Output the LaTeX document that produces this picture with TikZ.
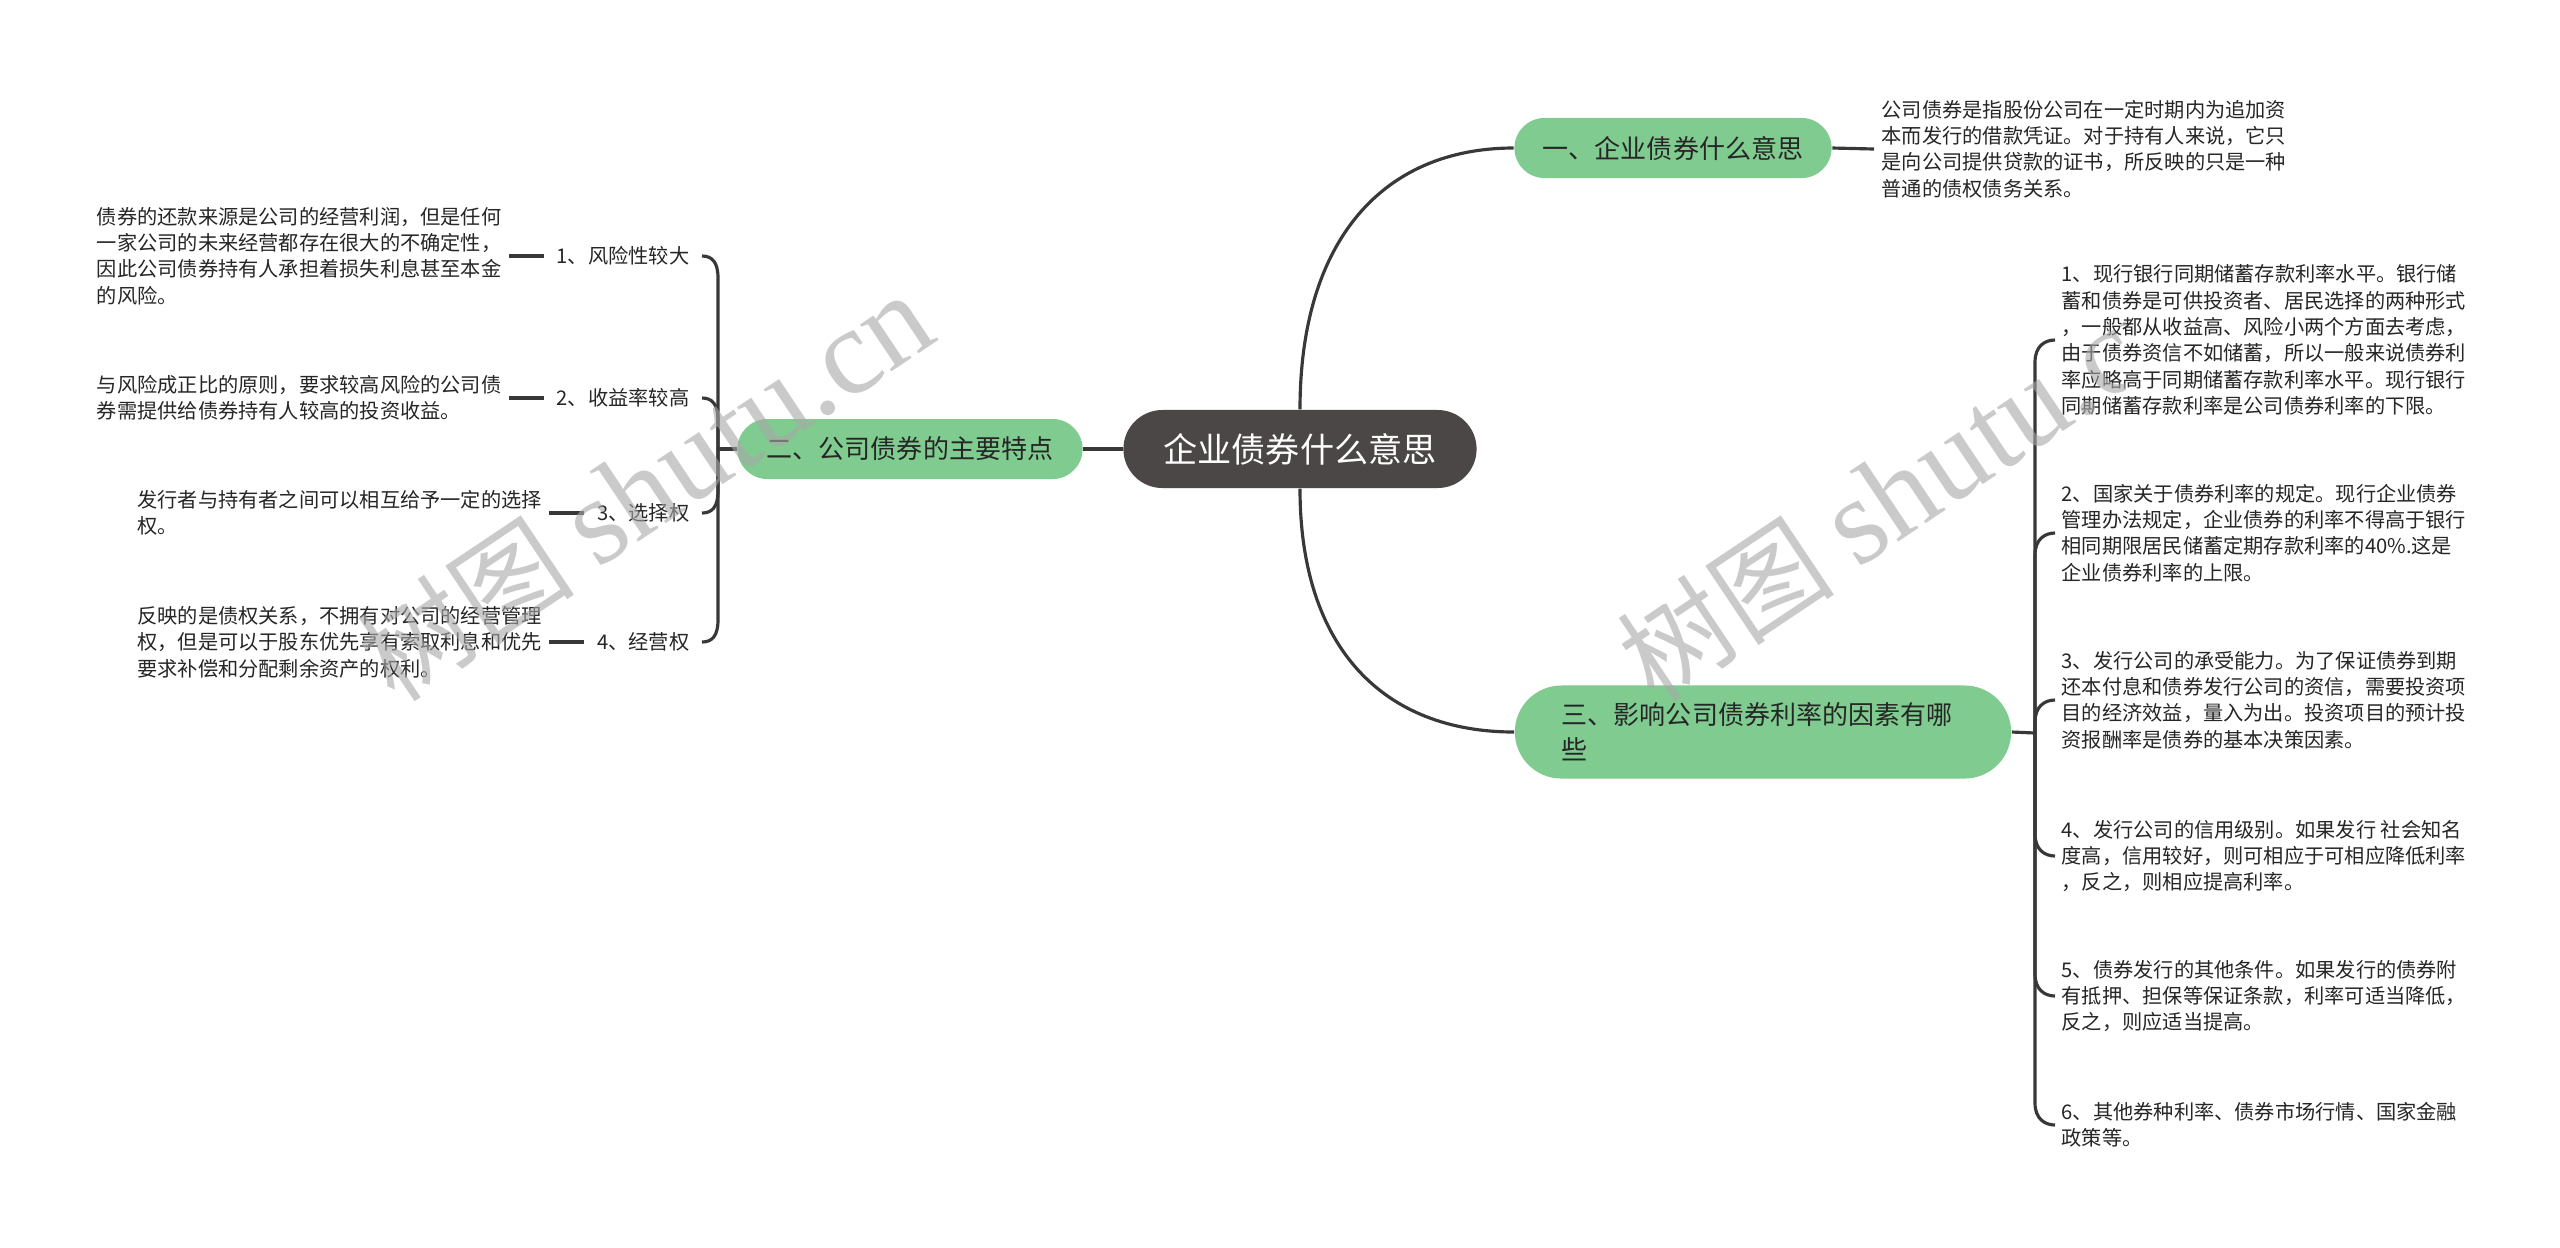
\documentclass[tikz,border=0pt]{standalone}
\usepackage{fontspec}
\setmainfont{Noto Sans CJK SC}
\newfontfamily\wmlatin{Liberation Serif}
\usetikzlibrary{calc}
\definecolor{nodegreen}{HTML}{80CB90}
\definecolor{rootfill}{HTML}{4C4747}
\definecolor{linec}{HTML}{383838}
\definecolor{txt}{HTML}{262626}
\definecolor{wmc}{HTML}{A8A8A8}
\begin{document}
\begin{tikzpicture}[x=0.01cm,y=-0.01cm,
  conn/.style={draw=linec,line width=0.9pt},
  rootnode/.style={fill=rootfill,text=white,rounded corners=0.39cm,minimum width=3.53cm,minimum height=0.78cm,inner sep=0,font=\fontsize{9.7pt}{11pt}\selectfont},
  branch/.style={fill=nodegreen,text=txt,inner sep=0,font=\fontsize{7.4pt}{10pt}\selectfont},
  desc/.style={text=txt,align=left,inner ysep=0,inner xsep=0.07cm,font=\fontsize{5.75pt}{7.5pt}\selectfont},
  lbl/.style={text=txt,inner ysep=0,inner xsep=0.12cm,font=\fontsize{5.75pt}{7.5pt}\selectfont},
  wmark/.style={text=wmc,text opacity=0.6,inner sep=0},
]
\useasboundingbox[fill=white] (0,0) rectangle (2560,1247);

% central and main branches
\node[rootnode] (root) at (1300,449) {企业债券什么意思};
\node[branch,minimum width=3.17cm,minimum height=0.6cm,rounded corners=0.3cm] (b1) at (1673,148) {一、企业债券什么意思};
\node[branch,minimum width=3.45cm,minimum height=0.6cm,rounded corners=0.3cm] (b2) at (910,449) {二、公司债券的主要特点};
\node[branch,minimum width=4.96cm,minimum height=0.93cm,rounded corners=0.465cm,text width=4.02cm,align=left,font=\fontsize{7.4pt}{10pt}\selectfont] (b3) at (1763,732) {三、影响公司债券利率的因素有哪\\些};

\draw[conn] (root.north) .. controls +(0,-170) and +(-130,0) .. (b1.west);
\draw[conn] (root.south) .. controls +(0,160) and +(-130,0) .. (b3.west);
\draw[conn] (root.west) -- (b2.east);

% branch 1 description
\node[desc,anchor=west] (d1) at (1874,149) {公司债券是指股份公司在一定时期内为追加资\\本而发行的借款凭证。对于持有人来说，它只\\是向公司提供贷款的证书，所反映的只是一种\\普通的债权债务关系。};
\draw[conn] (b1.east) -- (d1.west);

% branch 2 children
\coordinate (lb) at (718,449);
\draw[conn] (b2.west) -- (lb);
\node[lbl,anchor=east] (l1) at (702,256) {1、风险性较大};
\node[lbl,anchor=east] (l2) at (702,398) {2、收益率较高};
\node[lbl,anchor=east] (l3) at (702,513) {3、选择权};
\node[lbl,anchor=east] (l4) at (702,642) {4、经营权};
\node[desc,anchor=east] (t1) at ($(l1.west)+(-35,0)$) {债券的还款来源是公司的经营利润，但是任何\\一家公司的未来经营都存在很大的不确定性，\\因此公司债券持有人承担着损失利息甚至本金\\的风险。};
\node[desc,anchor=east] (t2) at ($(l2.west)+(-35,0)$) {与风险成正比的原则，要求较高风险的公司债\\券需提供给债券持有人较高的投资收益。};
\node[desc,anchor=east] (t3) at ($(l3.west)+(-35,0)$) {发行者与持有者之间可以相互给予一定的选择\\权。};
\node[desc,anchor=east] (t4) at ($(l4.west)+(-35,0)$) {反映的是债权关系，不拥有对公司的经营管理\\权，但是可以于股东优先享有索取利息和优先\\要求补偿和分配剩余资产的权利。};
\foreach \i in {1,2,3,4} {\draw[conn] (t\i.east) -- (l\i.west);}
\draw[conn] (lb) -- ($(l1.east)+(16,22)$) .. controls +(0,-16) and +(10,0) .. (l1.east);
\draw[conn] (lb) -- ($(l2.east)+(16,22)$) .. controls +(0,-16) and +(10,0) .. (l2.east);
\draw[conn] (lb) -- ($(l3.east)+(16,-22)$) .. controls +(0,16) and +(10,0) .. (l3.east);
\draw[conn] (lb) -- ($(l4.east)+(16,-22)$) .. controls +(0,16) and +(10,0) .. (l4.east);

% branch 3 children
\coordinate (rb) at (2035,733);
\draw[conn] (b3.east) -- (rb);
\node[desc,anchor=west,inner xsep=0.06cm] (r1) at (2055,340) {1、现行银行同期储蓄存款利率水平。银行储\\蓄和债券是可供投资者、居民选择的两种形式\\，一般都从收益高、风险小两个方面去考虑，\\由于债券资信不如储蓄，所以一般来说债券利\\率应略高于同期储蓄存款利率水平。现行银行\\同期储蓄存款利率是公司债券利率的下限。};
\node[desc,anchor=west,inner xsep=0.06cm] (r2) at (2055,533) {2、国家关于债券利率的规定。现行企业债券\\管理办法规定，企业债券的利率不得高于银行\\相同期限居民储蓄定期存款利率的40\%.这是\\企业债券利率的上限。};
\node[desc,anchor=west,inner xsep=0.06cm] (r3) at (2055,700) {3、发行公司的承受能力。为了保证债券到期\\还本付息和债券发行公司的资信，需要投资项\\目的经济效益，量入为出。投资项目的预计投\\资报酬率是债券的基本决策因素。};
\node[desc,anchor=west,inner xsep=0.06cm] (r4) at (2055,856) {4、发行公司的信用级别。如果发行 社会知名\\度高，信用较好，则可相应于可相应降低利率\\，反之，则相应提高利率。};
\node[desc,anchor=west,inner xsep=0.06cm] (r5) at (2055,996) {5、债券发行的其他条件。如果发行的债券附\\有抵押、担保等保证条款，利率可适当降低，\\反之，则应适当提高。};
\node[desc,anchor=west,inner xsep=0.06cm] (r6) at (2055,1125) {6、其他券种利率、债券市场行情、国家金融\\政策等。};
\foreach \i in {1,2,3} {\draw[conn] (rb) -- ($(r\i.west)+(-20,22)$) .. controls +(0,-16) and +(-10,0) .. (r\i.west);}
\foreach \i in {4,5,6} {\draw[conn] (rb) -- ($(r\i.west)+(-20,-22)$) .. controls +(0,16) and +(-10,0) .. (r\i.west);}

% watermarks
\node[wmark,rotate=33.8,anchor=base west] (wm1) at (395,705) {\fontsize{31pt}{36pt}\selectfont 树图 {\wmlatin\fontsize{35pt}{40pt}\selectfont shutu.cn}};
\begin{scope}
\clip (1500,0) rectangle (2125,1247);
\node[wmark,rotate=33.8,anchor=base west] (wm2) at (1655,705) {\fontsize{31pt}{36pt}\selectfont 树图 {\wmlatin\fontsize{35pt}{40pt}\selectfont shutu.cn}};
\end{scope}
\end{tikzpicture}
\end{document}
